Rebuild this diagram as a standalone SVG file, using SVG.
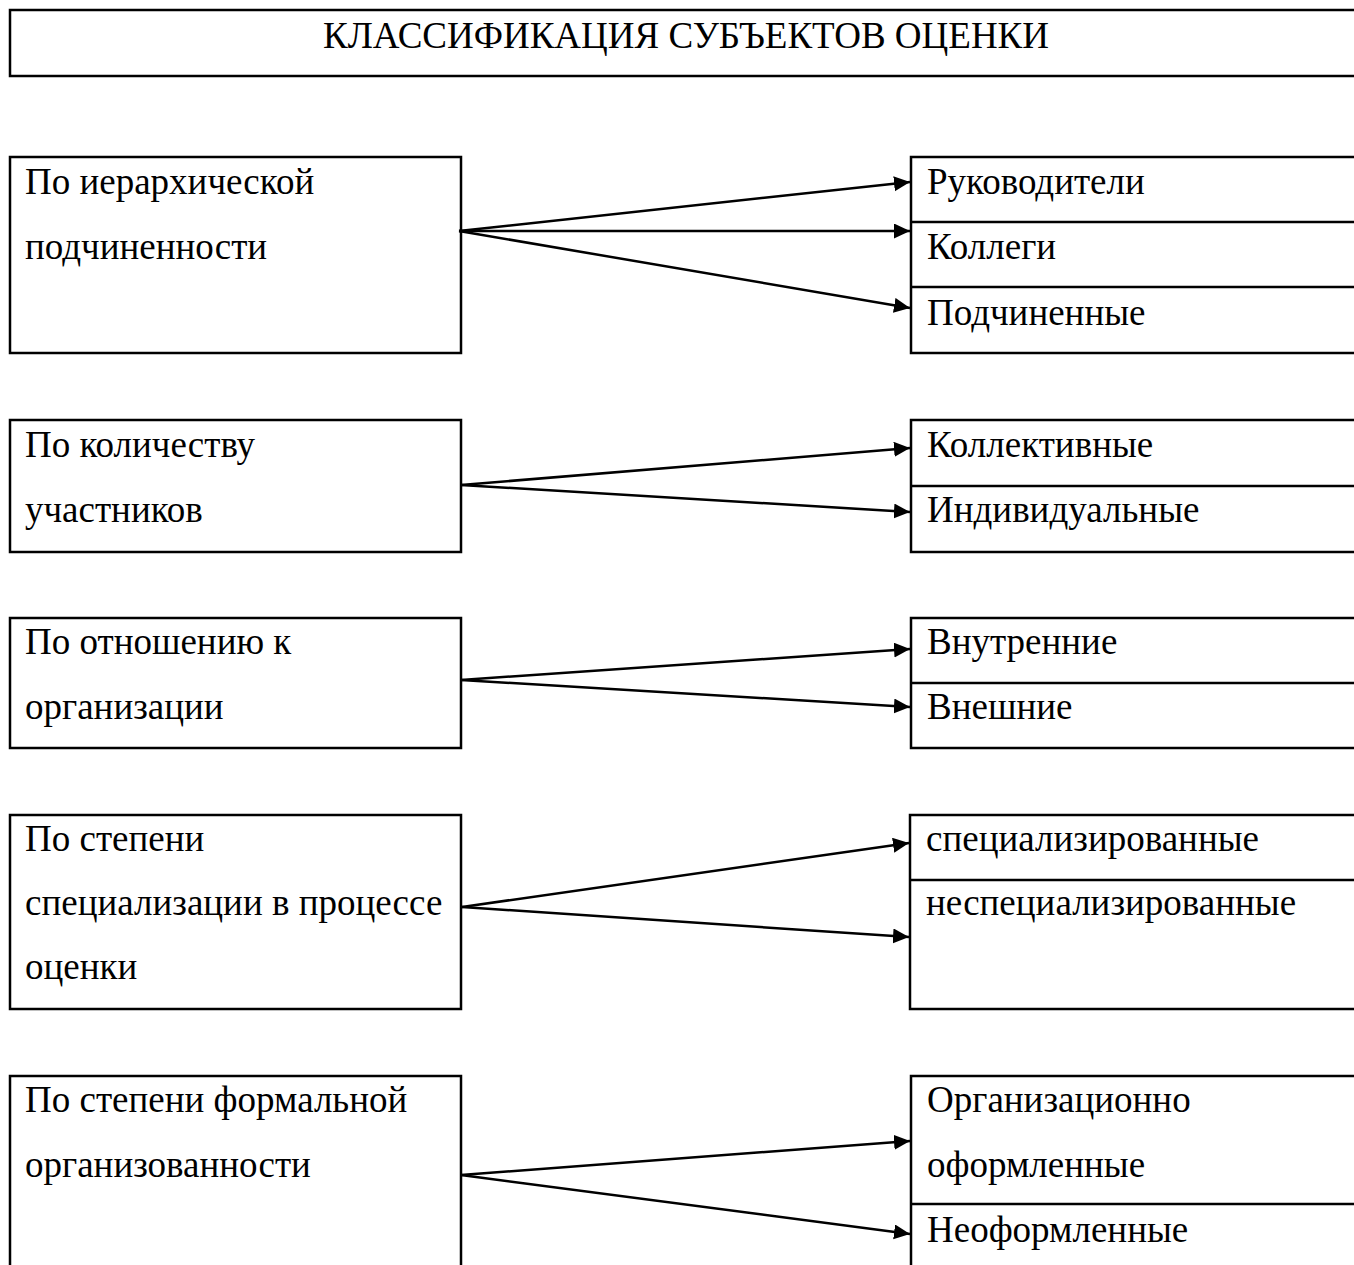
<svg xmlns="http://www.w3.org/2000/svg" width="1354" height="1265" viewBox="0 0 1354 1265">
<style>
.box{fill:#fff;stroke:#000;stroke-width:2.5}
.div{stroke:#000;stroke-width:2.5}
.t{font-family:"Liberation Serif","Times New Roman",serif;font-size:37px;fill:#000}
.c{stroke:#000;stroke-width:2.5;fill:none;marker-end:url(#ah)}
</style>
<defs>
<marker id="ah" markerUnits="userSpaceOnUse" markerWidth="18" markerHeight="16" refX="16" refY="7.5" orient="auto">
<path d="M0,0 L16,7.5 L0,15 Z" fill="#000"/>
</marker>
</defs>
<rect width="1354" height="1265" fill="#fff"/>
<g id="title">
<rect class="box" x="10" y="10" width="1360" height="66"/>
<text class="t" x="686" y="48" text-anchor="middle">КЛАССИФИКАЦИЯ СУБЪЕКТОВ ОЦЕНКИ</text>
</g>
<g id="n1">
<rect class="box" x="10" y="157" width="451" height="196"/>
<text class="t" x="25" y="194">По иерархической</text>
<text class="t" x="25" y="259">подчиненности</text>
</g>
<g id="n1r">
<rect class="box" x="911" y="157" width="460" height="196"/>
<line class="div" x1="911" y1="222" x2="1360" y2="222"/>
<line class="div" x1="911" y1="287" x2="1360" y2="287"/>
<text class="t" x="927" y="194">Руководители</text>
<text class="t" x="927" y="259">Коллеги</text>
<text class="t" x="927" y="325">Подчиненные</text>
</g>
<g id="n2">
<rect class="box" x="10" y="420" width="451" height="132"/>
<text class="t" x="25" y="457">По количеству</text>
<text class="t" x="25" y="522">участников</text>
</g>
<g id="n2r">
<rect class="box" x="911" y="420" width="460" height="132"/>
<line class="div" x1="911" y1="486" x2="1360" y2="486"/>
<text class="t" x="927" y="457">Коллективные</text>
<text class="t" x="927" y="522">Индивидуальные</text>
</g>
<g id="n3">
<rect class="box" x="10" y="618" width="451" height="130"/>
<text class="t" x="25" y="654">По отношению к</text>
<text class="t" x="25" y="719">организации</text>
</g>
<g id="n3r">
<rect class="box" x="911" y="618" width="460" height="130"/>
<line class="div" x1="911" y1="683" x2="1360" y2="683"/>
<text class="t" x="927" y="654">Внутренние</text>
<text class="t" x="927" y="719">Внешние</text>
</g>
<g id="n4">
<rect class="box" x="10" y="815" width="451" height="194"/>
<text class="t" x="25" y="851">По степени</text>
<text class="t" x="25" y="915">специализации в процессе</text>
<text class="t" x="25" y="979">оценки</text>
</g>
<g id="n4r">
<rect class="box" x="910" y="815" width="460" height="194"/>
<line class="div" x1="910" y1="880" x2="1360" y2="880"/>
<text class="t" x="926" y="851">специализированные</text>
<text class="t" x="926" y="915">неспециализированные</text>
</g>
<g id="n5">
<rect class="box" x="10" y="1076" width="451" height="220"/>
<text class="t" x="25" y="1112">По степени формальной</text>
<text class="t" x="25" y="1177">организованности</text>
</g>
<g id="n5r">
<rect class="box" x="911" y="1076" width="460" height="220"/>
<line class="div" x1="911" y1="1204" x2="1360" y2="1204"/>
<text class="t" x="927" y="1112">Организационно</text>
<text class="t" x="927" y="1177">оформленные</text>
<text class="t" x="927" y="1242">Неоформленные</text>
</g>
<g id="connectors">
<line class="c" x1="459" y1="231" x2="910" y2="182"/>
<line class="c" x1="459" y1="231" x2="910" y2="231"/>
<line class="c" x1="459" y1="231" x2="910" y2="308"/>
<line class="c" x1="461" y1="485" x2="910" y2="448"/>
<line class="c" x1="461" y1="485" x2="910" y2="512"/>
<line class="c" x1="461" y1="680" x2="910" y2="649"/>
<line class="c" x1="461" y1="680" x2="910" y2="707"/>
<line class="c" x1="462" y1="907" x2="909" y2="843"/>
<line class="c" x1="462" y1="907" x2="909" y2="937"/>
<line class="c" x1="461" y1="1175" x2="910" y2="1141"/>
<line class="c" x1="461" y1="1175" x2="910" y2="1234"/>
</g>
</svg>
